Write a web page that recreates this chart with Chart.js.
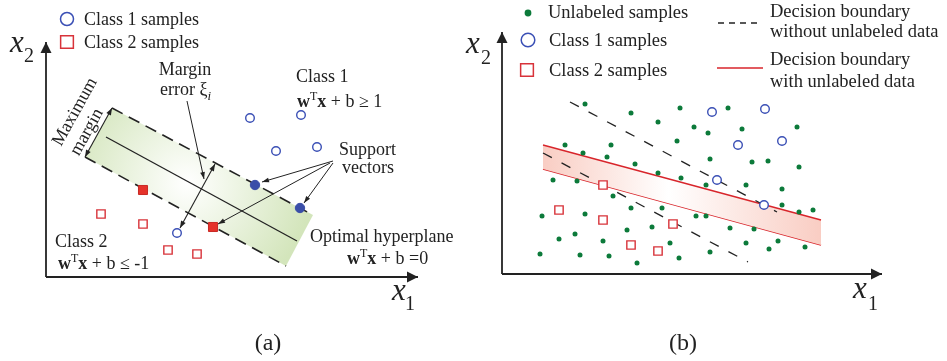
<!DOCTYPE html>
<html>
<head>
<meta charset="utf-8">
<script src="https://cdn.jsdelivr.net/npm/chart.js@4.4.1/dist/chart.umd.min.js"></script>
<style>
body { margin: 0; background: #fff; }
canvas { position: absolute; top: 0; }
</style>
</head>
<body>
<canvas id="chartA" width="465" height="361" style="left:0px"></canvas>
<canvas id="chartB" width="492" height="361" style="left:455px"></canvas>
<script>
// panel (a) - values in x1/x2 units, origin at the axes corner
var classOneA = [{x:204,y:159},{x:255,y:162},{x:230,y:126},{x:271,y:130},{x:131,y:44}];
var supportOneA = [{x:209,y:92},{x:254,y:69}];
var classTwoA = [{x:55,y:63},{x:97,y:53},{x:122,y:27},{x:151,y:23}];
var supportTwoA = [{x:97,y:87},{x:167,y:50}];
var upperMarginA = [{x:66,y:169},{x:267,y:62}];
var lowerMarginA = [{x:39,y:120},{x:240,y:11}];
var hyperplaneA = [{x:60,y:140},{x:251,y:36}];
var bandTopA = [{x:39,y:120},{x:66,y:169},{x:267,y:62}];
var bandBottomA = [{x:39,y:120},{x:240,y:11},{x:267,y:62}];
var maxMarginArrowA = [{x:66,y:169},{x:39,y:120}];
var marginErrorArrowA = [{x:169,y:113},{x:134,y:49}];
var errorPointerA = [{x:141,y:176},{x:158,y:98}];
var svArrowsA = [
    [{x:287,y:116},{x:216,y:95}],
    [{x:284,y:114},{x:172,y:53}],
    [{x:287,y:114},{x:258,y:74}]
];
var xAxisA = [{x:0,y:0},{x:372,y:0}];
var yAxisA = [{x:0,y:0},{x:0,y:235}];
var legendOneA = [{x:21,y:258}];
var legendTwoA = [{x:21,y:235}];

// panel (b)
var unlabeledB = [
    {x:83,y:170},{x:129,y:161},{x:156,y:152},{x:178,y:166},{x:175,y:133},{x:63,y:129},
    {x:109,y:129},{x:81,y:121},{x:105,y:117},{x:133,y:110},{x:156,y:101},{x:179,y:96},
    {x:51,y:94},{x:75,y:93},{x:111,y:78},{x:129,y:66},{x:160,y:66},{x:40,y:58},
    {x:83,y:60},{x:125,y:44},{x:150,y:47},{x:57,y:35},{x:73,y:40},{x:101,y:33},
    {x:168,y:31},{x:38,y:20},{x:78,y:19},{x:107,y:18},{x:135,y:11},{x:177,y:16},
    {x:226,y:166},{x:192,y:147},{x:206,y:141},{x:240,y:145},{x:295,y:147},{x:208,y:115},
    {x:250,y:112},{x:266,y:113},{x:297,y:107},{x:204,y:89},{x:244,y:89},{x:280,y:85},
    {x:280,y:69},{x:297,y:62},{x:311,y:64},{x:194,y:58},{x:204,y:58},{x:228,y:46},
    {x:252,y:45},{x:208,y:22},{x:244,y:31},{x:276,y:33},{x:267,y:25},{x:303,y:27}
];
var classOneB = [{x:210,y:162},{x:263,y:165},{x:236,y:129},{x:280,y:133},{x:215,y:94},{x:262,y:69}];
var classTwoB = [{x:101,y:89},{x:57,y:64},{x:101,y:54},{x:129,y:29},{x:156,y:23},{x:171,y:50}];
var upperDashB = [{x:68,y:172},{x:275,y:62}];
var lowerDashB = [{x:41,y:121},{x:246,y:12}];
var redUpperB = [{x:41,y:129},{x:319,y:54}];
var redLowerB = [{x:41,y:105},{x:319,y:29}];
var xAxisB = [{x:0,y:0},{x:380,y:0}];
var yAxisB = [{x:0,y:0},{x:0,y:242}];
var legendDotB = [{x:26,y:261}];
var legendOneB = [{x:26,y:234}];
var legendTwoB = [{x:25,y:204}];
var legendDashB = [{x:216,y:251},{x:255,y:251}];
var legendRedB = [{x:215,y:206},{x:261,y:206}];

var FAM = '"Liberation Serif", "Times New Roman", serif';
var INK = '#222';
var BLUE = '#3a4fb5';
var RED = '#d8333a';

var labelsA = [
    {x:38, y:252, text:'Class 1 samples'},
    {x:38, y:229, text:'Class 2 samples'},
    {x:-36, y:225, text:'x', italic:true, size:31},
    {x:-22, y:215, text:'2', size:20},
    {x:346, y:-23, text:'x', italic:true, size:31},
    {x:359, y:-33, text:'1', size:20},
    {x:139, y:202, text:'Margin', align:'center'},
    {x:114, y:182, text:[['error ξ',''],['i','isub']]},
    {x:250, y:195, text:'Class 1'},
    {x:251, y:170, text:[['w','b'],['T','sup'],['x','b'],[' + b ≥ 1','']]},
    {x:293, y:122, text:'Support'},
    {x:296, y:104, text:'vectors'},
    {x:9, y:30, text:'Class 2'},
    {x:12, y:8, text:[['w','b'],['T','sup'],['x','b'],[' + b ≤ -1','']]},
    {x:264, y:35, text:'Optimal hyperplane'},
    {x:301, y:13, text:[['w','b'],['T','sup'],['x','b'],[' + b =0','']]},
    {x:29, y:165, text:'Maximum', align:'center', baseline:'middle', rotate:-61},
    {x:41, y:145, text:'margin', align:'center', baseline:'middle', rotate:-61},
    {x:222, y:-73, text:'(a)', align:'center', size:24}
];

var labelsB = [
    {x:46, y:256, text:'Unlabeled samples', size:18.5},
    {x:47, y:228, text:'Class 1 samples', size:18.5},
    {x:47, y:198, text:'Class 2 samples', size:18.5},
    {x:268, y:257, text:'Decision boundary', size:18.5},
    {x:268, y:237, text:'without unlabeled data', size:18.5},
    {x:268, y:209, text:'Decision boundary', size:18.5},
    {x:268, y:187, text:'with unlabeled data', size:18.5},
    {x:-36, y:221, text:'x', italic:true, size:31},
    {x:-21, y:210, text:'2', size:20},
    {x:351, y:-24, text:'x', italic:true, size:31},
    {x:366, y:-36, text:'1', size:20},
    {x:181, y:-76, text:'(b)', align:'center', size:24}
];

function runFont(style, size, italic) {
    if (style === 'b') return 'bold ' + size + 'px ' + FAM;
    if (style === 'sup' || style === 'sub') return Math.round(size * 0.68) + 'px ' + FAM;
    if (style === 'isub') return 'italic ' + Math.round(size * 0.7) + 'px ' + FAM;
    return (italic ? 'italic ' : '') + size + 'px ' + FAM;
}

function makeNotes(items) {
    return {
        id: 'notes',
        afterDraw: function (chart) {
            var ctx = chart.ctx, sx = chart.scales.x, sy = chart.scales.y;
            items.forEach(function (it) {
                var size = it.size || 18;
                var runs = typeof it.text === 'string' ? [[it.text, '']] : it.text;
                ctx.save();
                ctx.translate(sx.getPixelForValue(it.x), sy.getPixelForValue(it.y));
                if (it.rotate) ctx.rotate(it.rotate * Math.PI / 180);
                ctx.textBaseline = it.baseline || 'alphabetic';
                ctx.fillStyle = INK;
                var total = 0;
                runs.forEach(function (r) {
                    ctx.font = runFont(r[1], size, it.italic);
                    total += ctx.measureText(r[0]).width;
                });
                var cx = it.align === 'center' ? -total / 2 : 0;
                runs.forEach(function (r) {
                    ctx.font = runFont(r[1], size, it.italic);
                    var dy = 0;
                    if (r[1] === 'sup') dy = -size * 0.4;
                    if (r[1] === 'sub' || r[1] === 'isub') dy = size * 0.25;
                    ctx.fillText(r[0], cx, dy);
                    cx += ctx.measureText(r[0]).width;
                });
                ctx.restore();
            });
        }
    };
}

function drawHead(ctx, from, to, len, half, color) {
    var a = Math.atan2(to.y - from.y, to.x - from.x);
    ctx.save();
    ctx.translate(to.x, to.y);
    ctx.rotate(a);
    ctx.beginPath();
    ctx.moveTo(0, 0);
    ctx.lineTo(-len, half);
    ctx.lineTo(-len, -half);
    ctx.closePath();
    ctx.fillStyle = color;
    ctx.fill();
    ctx.restore();
}

var arrowPlugin = {
    id: 'arrowHeads',
    afterDatasetsDraw: function (chart) {
        var ctx = chart.ctx;
        chart.data.datasets.forEach(function (ds, i) {
            if (!ds.arrow) return;
            var pts = chart.getDatasetMeta(i).data;
            var n = pts.length;
            var len = ds.arrowLength || 7, half = ds.arrowWidth || 2.5;
            drawHead(ctx, pts[n - 2], pts[n - 1], len, half, ds.borderColor);
            if (ds.arrow === 'both') drawHead(ctx, pts[1], pts[0], len, half, ds.borderColor);
        });
    }
};

function points(data, style, radius, fillColor, edgeColor, width) {
    return {
        data: data, showLine: false, order: 0,
        pointStyle: style, pointRadius: radius, pointHoverRadius: radius,
        pointBackgroundColor: fillColor, pointBorderColor: edgeColor,
        pointBorderWidth: width === undefined ? 1.4 : width
    };
}

function segment(data, color, width, dash, arrow, len, half) {
    return {
        data: data, showLine: true, order: 1, fill: false,
        borderColor: color, borderWidth: width, borderDash: dash || [],
        pointRadius: 0, pointHoverRadius: 0,
        arrow: arrow, arrowLength: len, arrowWidth: half
    };
}

function area(data, fillTo, color) {
    return {
        data: data, showLine: true, order: 2, fill: fillTo,
        borderWidth: 0, borderColor: 'rgba(0,0,0,0)', backgroundColor: color,
        pointRadius: 0, pointHoverRadius: 0
    };
}

function baseOptions(xmin, xmax, ymin, ymax) {
    return {
        responsive: false,
        animation: false,
        events: [],
        layout: { padding: 0, autoPadding: false },
        plugins: { legend: { display: false }, tooltip: { enabled: false } },
        scales: {
            x: { type: 'linear', display: false, min: xmin, max: xmax },
            y: { type: 'linear', display: false, min: ymin, max: ymax }
        }
    };
}

function greenGlow(context) {
    var chart = context.chart;
    if (!chart.chartArea) return 'rgba(0,0,0,0)';
    var cx = chart.scales.x.getPixelForValue(141);
    var cy = chart.scales.y.getPixelForValue(94);
    var g = chart.ctx.createRadialGradient(cx, cy, 0, cx, cy, 125);
    g.addColorStop(0, '#ffffff');
    g.addColorStop(1, '#d3e5bb');
    return g;
}

function pinkGlow(context) {
    var chart = context.chart;
    if (!chart.chartArea) return 'rgba(0,0,0,0)';
    var x0 = chart.scales.x.getPixelForValue(41);
    var x1 = chart.scales.x.getPixelForValue(319);
    var g = chart.ctx.createLinearGradient(x0, 0, x1, 0);
    g.addColorStop(0, '#f9cdc3');
    g.addColorStop(0.45, '#ffffff');
    g.addColorStop(1, '#f9cdc3');
    return g;
}

var datasetsA = [
    points(supportOneA, 'circle', 4.7, '#3a4ea8', '#3a4ea8', 1),
    points(supportTwoA, 'rect', 6.4, '#e5322a', '#c92a25', 1),
    points(classOneA, 'circle', 4.3, '#ffffff', BLUE),
    points(classTwoA, 'rect', 5.9, '#ffffff', RED),
    points(legendOneA, 'circle', 6.5, '#ffffff', BLUE, 1.5),
    points(legendTwoA, 'rect', 9, '#ffffff', RED, 1.5),
    segment(upperMarginA, INK, 1.6, [12, 7]),
    segment(lowerMarginA, INK, 1.6, [12, 7]),
    segment(hyperplaneA, INK, 1.3),
    segment(maxMarginArrowA, INK, 1.1, [], 'both', 7, 2.6),
    segment(marginErrorArrowA, INK, 1.1, [], 'both', 7, 2.6),
    segment(errorPointerA, INK, 1, [], 'end', 7, 2.4),
    segment(svArrowsA[0], INK, 1, [], 'end', 7, 2.4),
    segment(svArrowsA[1], INK, 1, [], 'end', 7, 2.4),
    segment(svArrowsA[2], INK, 1, [], 'end', 7, 2.4),
    segment(xAxisA, INK, 1.8, [], 'end', 11, 5.5),
    segment(yAxisA, INK, 1.8, [], 'end', 11, 5.5),
    area(bandTopA, '+1', greenGlow),
    area(bandBottomA, false, 'rgba(0,0,0,0)')
];

var datasetsB = [
    points(unlabeledB, 'circle', 2.5, '#0c7a3a', '#0c7a3a', 0),
    points(classOneB, 'circle', 4.3, '#ffffff', BLUE),
    points(classTwoB, 'rect', 5.9, '#ffffff', RED),
    points(legendDotB, 'circle', 3.4, '#0c7a3a', '#0c7a3a', 0),
    points(legendOneB, 'circle', 6.8, '#ffffff', BLUE, 1.5),
    points(legendTwoB, 'rect', 9, '#ffffff', RED, 1.5),
    segment(upperDashB, INK, 1.3, [10, 11]),
    segment(lowerDashB, INK, 1.3, [10, 11]),
    segment(legendDashB, INK, 1.3, [6, 5]),
    segment(legendRedB, '#d8252b', 1.4),
    segment(xAxisB, INK, 1.8, [], 'end', 11, 5.5),
    segment(yAxisB, INK, 1.8, [], 'end', 11, 5.5),
    Object.assign(area(redUpperB, '+1', pinkGlow), { borderWidth: 1.4, borderColor: '#d8252b', order: 1 }),
    Object.assign(area(redLowerB, false, 'rgba(0,0,0,0)'), { borderWidth: 1.4, borderColor: '#d8252b', order: 1 })
];

// panel (a) canvas spans x 0..465, panel (b) canvas spans x 455..947 (transparent overlap)
new Chart(document.getElementById('chartA'), {
    type: 'line',
    data: { datasets: datasetsA },
    options: baseOptions(-46, 419, -84, 277),
    plugins: [arrowPlugin, makeNotes(labelsA)]
});

new Chart(document.getElementById('chartB'), {
    type: 'line',
    data: { datasets: datasetsB },
    options: baseOptions(-47, 445, -87, 274),
    plugins: [arrowPlugin, makeNotes(labelsB)]
});
</script>
</body>
</html>
